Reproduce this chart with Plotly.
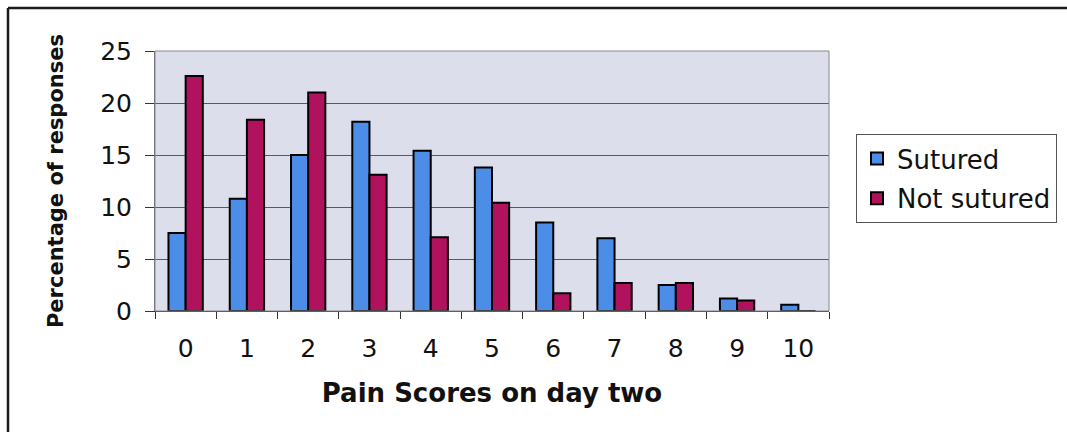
import plotly.graph_objects as go

# Pain scores on day two, percentage of responses per group
pain_scores = ["0", "1", "2", "3", "4", "5", "6", "7", "8", "9", "10"]
sutured = [7.5, 10.8, 15.0, 18.2, 15.4, 13.8, 8.5, 7.0, 2.5, 1.2, 0.6]
not_sutured = [22.6, 18.4, 21.0, 13.1, 7.1, 10.4, 1.7, 2.7, 2.7, 1.0, 0.0]
y_ticks = [0, 5, 10, 15, 20, 25]

W, H = 1067, 432
L, R, T, B = 155, 238, 51, 121
pw, ph = W - L - R, H - T - B

def px_x(x):
    return (x - L) / pw

def px_y(y):
    return (H - B - y) / ph

BLUE = "#4c8de8"
MAGENTA = "#b0125e"
FONT = "DejaVu Sans"

fig = go.Figure()
fig.add_trace(go.Bar(
    x=pain_scores, y=sutured, name="Sutured", legendgroup="a",
    marker=dict(color=BLUE, line=dict(color="#000000", width=2)),
))
fig.add_trace(go.Bar(
    x=pain_scores, y=not_sutured, name="Not sutured", legendgroup="b",
    marker=dict(color=MAGENTA, line=dict(color="#000000", width=2)),
))

fig.update_layout(
    width=W, height=H,
    margin=dict(l=L, r=R, t=T, b=B, autoexpand=False),
    paper_bgcolor="#ffffff",
    plot_bgcolor="#dcdeec",
    barmode="group",
    bargap=0.44,
    bargroupgap=0,
    font=dict(family=FONT, size=25, color="#111111"),
    showlegend=True,
    legend=dict(
        x=px_x(856), y=px_y(134), xanchor="left", yanchor="top",
        bgcolor="#ffffff", bordercolor="#555555", borderwidth=1,
        font=dict(family=FONT, size=26, color="#111111"),
        tracegroupgap=3,
    ),
    xaxis=dict(
        type="category",
        tickson="boundaries",
        ticks="outside", ticklen=7, tickwidth=1, tickcolor="#333333",
        showline=True, linecolor="#333333", linewidth=1,
        showgrid=False,
        ticklabelstandoff=15,
        tickfont=dict(family=FONT, size=25, color="#111111"),
        title=dict(text="Pain Scores on day two",
                   font=dict(family=FONT, size=26, color="#111111", weight="bold"),
                   standoff=21),
        fixedrange=True,
    ),
    yaxis=dict(
        range=[0, 25],
        tickvals=y_ticks,
        ticks="outside", ticklen=9, tickwidth=1, tickcolor="#333333",
        showline=True, linecolor="#666666", linewidth=1,
        showgrid=True, gridcolor="#5a5a5a", gridwidth=1,
        zeroline=False,
        ticklabelstandoff=8,
        tickfont=dict(family=FONT, size=25, color="#111111"),
        title=dict(text="Percentage of responses",
                   font=dict(family=FONT, size=21, color="#111111", weight="bold"),
                   standoff=30),
        fixedrange=True,
    ),
)

# Plot-area border
fig.add_shape(type="rect", xref="paper", yref="paper", x0=0, x1=1, y0=0, y1=1,
              line=dict(color="#8a8a8a", width=1), layer="above")

# Outer chart frame: top and left edges
frame = dict(color="#1a1a1a", width=2.5)
fig.add_shape(type="line", xref="paper", yref="paper",
              x0=px_x(8), x1=px_x(W), y0=px_y(8), y1=px_y(8),
              line=frame, layer="above")
fig.add_shape(type="line", xref="paper", yref="paper",
              x0=px_x(8), x1=px_x(8), y0=px_y(8), y1=px_y(H),
              line=frame, layer="above")

fig.write_html("out.html")
